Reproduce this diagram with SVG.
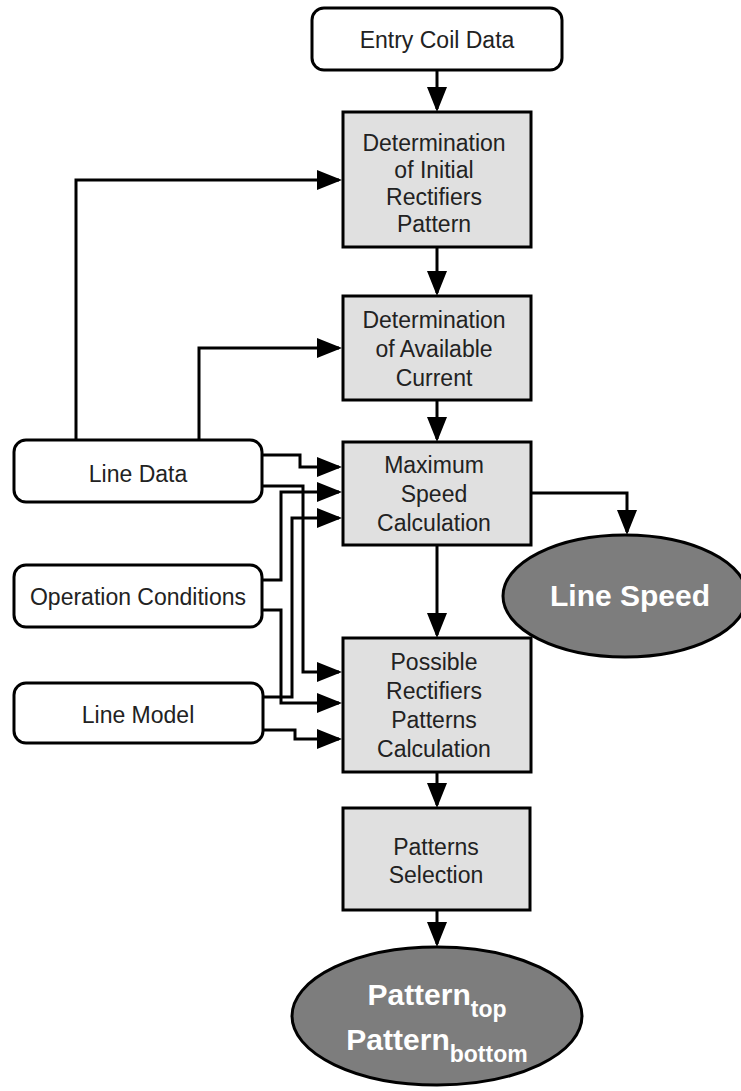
<svg xmlns="http://www.w3.org/2000/svg" width="741" height="1091" viewBox="0 0 741 1091">
<style>
.box{fill:#e0e0e0;stroke:#000;stroke-width:3}
.rbox{fill:#fff;stroke:#000;stroke-width:3}
.ell{fill:#7d7d7d;stroke:#000;stroke-width:3}
.t{font-family:"Liberation Sans",Arial,sans-serif;font-size:23px;fill:#222;text-anchor:middle}
.tb{font-family:"Liberation Sans",Arial,sans-serif;font-weight:bold;font-size:30px;fill:#fff;text-anchor:middle}
.c{fill:none;stroke:#000;stroke-width:3;stroke-linejoin:miter;marker-end:url(#ah)}
</style>
<defs>
<marker id="ah" markerUnits="userSpaceOnUse" markerWidth="25" markerHeight="20" refX="22" refY="10" orient="auto" viewBox="0 0 25 20">
<path d="M0,0 L25,10 L0,20 z" fill="#000"/>
</marker>
</defs>
<rect width="741" height="1091" fill="#fff"/>
<g id="connectors">
<path class="c" d="M437,70 V109"/>
<path class="c" d="M437,247 V293"/>
<path class="c" d="M437,400 V439"/>
<path class="c" d="M437,545 V635"/>
<path class="c" d="M437,772 V805"/>
<path class="c" d="M437,910 V944"/>
<path class="c" d="M531,493 H627 V532"/>
<path class="c" d="M76,440 V180 H339"/>
<path class="c" d="M199,440 V348 H339"/>
<path class="c" d="M262,455 H300 V467 H339"/>
<path class="c" d="M262,486 H303 V672 H339"/>
<path class="c" d="M262,580 H281 V492 H339"/>
<path class="c" d="M262,610 H281 V703 H339"/>
<path class="c" d="M263,697 H292 V518 H339"/>
<path class="c" d="M263,730 H295 V739 H339"/>
</g>
<g id="entry">
<rect class="rbox" x="312" y="8" width="250" height="62" rx="12"/>
<text class="t" x="437" y="48">Entry Coil Data</text>
</g>
<g id="detInitial">
<rect class="box" x="343" y="112" width="188" height="135"/>
<text class="t" x="434" y="151">Determination</text>
<text class="t" x="434" y="178">of Initial</text>
<text class="t" x="434" y="205">Rectifiers</text>
<text class="t" x="434" y="232">Pattern</text>
</g>
<g id="detAvailable">
<rect class="box" x="343" y="296" width="188" height="104"/>
<text class="t" x="434" y="328">Determination</text>
<text class="t" x="434" y="357">of Available</text>
<text class="t" x="434" y="386">Current</text>
</g>
<g id="maxSpeed">
<rect class="box" x="343" y="442" width="188" height="103"/>
<text class="t" x="434" y="473">Maximum</text>
<text class="t" x="434" y="502">Speed</text>
<text class="t" x="434" y="531">Calculation</text>
</g>
<g id="possible">
<rect class="box" x="343" y="638" width="188" height="134"/>
<text class="t" x="434" y="670">Possible</text>
<text class="t" x="434" y="699">Rectifiers</text>
<text class="t" x="434" y="728">Patterns</text>
<text class="t" x="434" y="757">Calculation</text>
</g>
<g id="selection">
<rect class="box" x="343" y="808" width="187" height="102"/>
<text class="t" x="436" y="855">Patterns</text>
<text class="t" x="436" y="883">Selection</text>
</g>
<g id="lineSpeed">
<ellipse class="ell" cx="625" cy="596" rx="122" ry="61"/>
<text class="tb" x="630" y="606">Line Speed</text>
</g>
<g id="patternOut">
<ellipse class="ell" cx="437" cy="1016" rx="145" ry="69"/>
<text class="tb" x="437" y="1005">Pattern<tspan font-size="23" dy="12">top</tspan></text>
<text class="tb" x="437" y="1050">Pattern<tspan font-size="23" dy="12">bottom</tspan></text>
</g>
<g id="lineData">
<rect class="rbox" x="14" y="440" width="248" height="62" rx="12"/>
<text class="t" x="138" y="482">Line Data</text>
</g>
<g id="opCond">
<rect class="rbox" x="14" y="565" width="248" height="62" rx="12"/>
<text class="t" x="138" y="605">Operation Conditions</text>
</g>
<g id="lineModel">
<rect class="rbox" x="14" y="683" width="249" height="60" rx="12"/>
<text class="t" x="138" y="723">Line Model</text>
</g>
</svg>
